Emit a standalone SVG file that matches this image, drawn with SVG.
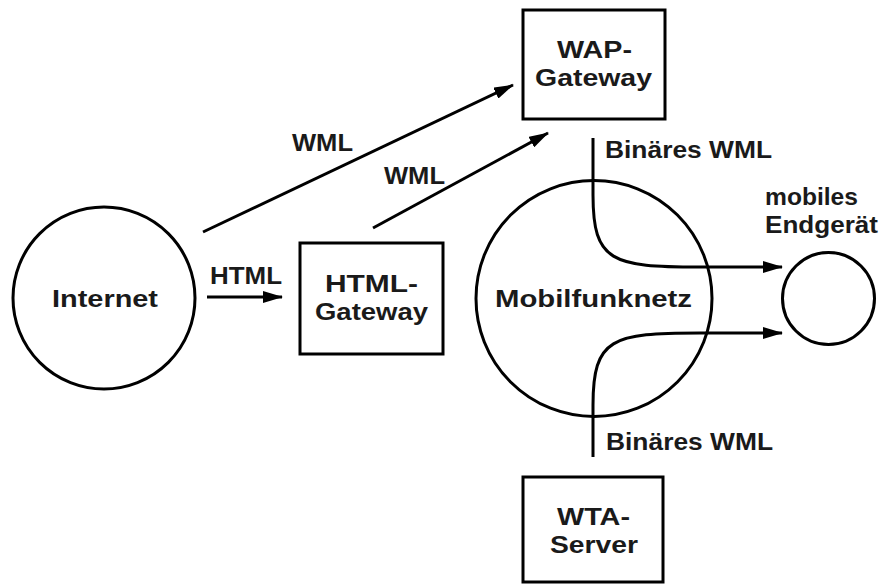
<svg xmlns="http://www.w3.org/2000/svg" width="885" height="585" viewBox="0 0 885 585">
  <defs>
    <marker id="arrow" viewBox="0 0 20 12" refX="19" refY="6" markerWidth="20" markerHeight="12" markerUnits="userSpaceOnUse" orient="auto">
      <path d="M0,0 L20,6 L0,12 Z" fill="#000"/>
    </marker>
    <style>
      .shape { fill: none; stroke: #000; stroke-width: 3; }
      .link { fill: none; stroke: #000; stroke-width: 3; marker-end: url(#arrow); }
      text { font-family: "Liberation Sans", Arial, sans-serif; font-weight: bold; font-size: 24px; fill: #1a1a1a; }
    </style>
  </defs>
  <rect width="885" height="585" fill="#fff"/>

  <!-- connectors and their labels -->
  <g id="connectors">
    <line class="link" x1="203" y1="232" x2="513" y2="85"/>
    <line class="link" x1="373" y1="228" x2="548" y2="133"/>
    <line class="link" x1="207" y1="297" x2="282" y2="297"/>
    <path class="link" d="M593,138 L593,195 C593,262 612,267 700,267 L782,267"/>
    <path class="link" d="M593,457 L593,405 C593,338 612,333 700,333 L782,333"/>
    <text x="292" y="151" textLength="61" lengthAdjust="spacingAndGlyphs">WML</text>
    <text x="384" y="184" textLength="61" lengthAdjust="spacingAndGlyphs">WML</text>
    <text x="210" y="284" textLength="72" lengthAdjust="spacingAndGlyphs">HTML</text>
    <text x="605" y="158" textLength="167" lengthAdjust="spacingAndGlyphs">Binäres WML</text>
    <text x="606" y="450" textLength="167" lengthAdjust="spacingAndGlyphs">Binäres WML</text>
  </g>

  <!-- nodes -->
  <g id="internet">
    <circle class="shape" cx="104" cy="298" r="91"/>
    <text x="52" y="307" textLength="106" lengthAdjust="spacingAndGlyphs">Internet</text>
  </g>

  <g id="wap-gateway">
    <rect class="shape" x="523" y="10" width="142" height="109"/>
    <text x="557" y="58" textLength="75" lengthAdjust="spacingAndGlyphs">WAP-</text>
    <text x="535" y="86" textLength="117" lengthAdjust="spacingAndGlyphs">Gateway</text>
  </g>

  <g id="html-gateway">
    <rect class="shape" x="300" y="243" width="143" height="111"/>
    <text x="325" y="292" textLength="93" lengthAdjust="spacingAndGlyphs">HTML-</text>
    <text x="315" y="320" textLength="113" lengthAdjust="spacingAndGlyphs">Gateway</text>
  </g>

  <g id="mobilfunknetz">
    <circle class="shape" cx="594" cy="298.5" r="118"/>
    <text x="495" y="307" textLength="197" lengthAdjust="spacingAndGlyphs">Mobilfunknetz</text>
  </g>

  <g id="endgeraet">
    <circle class="shape" cx="828.5" cy="298.5" r="46"/>
    <text x="765" y="205" textLength="93" lengthAdjust="spacingAndGlyphs">mobiles</text>
    <text x="765" y="233" textLength="113" lengthAdjust="spacingAndGlyphs">Endgerät</text>
  </g>

  <g id="wta-server">
    <rect class="shape" x="523" y="477" width="140" height="105"/>
    <text x="557" y="525" textLength="73" lengthAdjust="spacingAndGlyphs">WTA-</text>
    <text x="550" y="553" textLength="88" lengthAdjust="spacingAndGlyphs">Server</text>
  </g>
</svg>
